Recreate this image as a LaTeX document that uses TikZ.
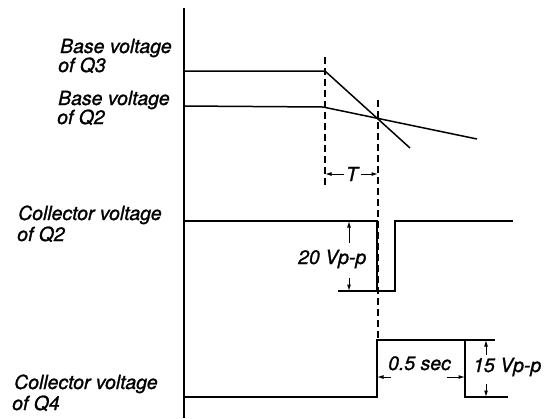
\documentclass[tikz,border=0pt]{standalone}
\usepackage{fontspec}
\setmainfont{TeX Gyre Heros}[ItalicFeatures={FakeBold=1.2}, FakeBold=1.2]
\usetikzlibrary{arrows.meta}
\begin{document}
\begin{tikzpicture}[x=1bp,y=-1bp,
  wave/.style={line width=1.5bp, line join=miter},
  guide/.style={line width=1.1bp, dash pattern=on 7bp off 4bp},
  lbl/.style={anchor=base west, inner sep=0pt, font=\fontsize{19.5}{20}\selectfont\itshape},
  dimarrow/.style={line width=1bp, -{Latex[length=6.5bp,width=4bp]}},
  ext/.style={line width=1.1bp}]
\useasboundingbox (0,0) rectangle (553,418);

% axis
\coordinate (axtop) at (184,8);
\coordinate (axbot) at (184,418);
\draw[wave] (axtop) -- (axbot);

% base voltages
\coordinate (q3a) at (184,71);
\coordinate (q3b) at (325,71);
\coordinate (q3c) at (410,148);
\draw[wave] (q3a) -- (q3b) -- (q3c);
\coordinate (q2a) at (184,106);
\coordinate (q2b) at (323,107);
\coordinate (q2c) at (477,139);
\draw[wave] (q2a) -- (q2b) -- (q2c);

% dashed guides
\coordinate (d1t) at (325,57);
\coordinate (d1b) at (325,188);
\draw[guide] (d1t) -- (d1b);
\coordinate (d2t) at (378,100);
\coordinate (d2b) at (378,338);
\draw[guide] (d2t) -- (d2b);

% T
\node[lbl, anchor=center] (T) at (352,174) {T};
\draw[dimarrow] (T.west) ++(-2,0) coordinate (tl) -- (d1b |- tl);
\draw[dimarrow] (T.east) ++(3,0) coordinate (tr) -- (d2b |- tr);

% collector Q2
\coordinate (c2a) at (184,221);
\coordinate (c2b) at (377,221);
\coordinate (c2c) at (377,291);
\coordinate (c2d) at (395,291);
\coordinate (c2e) at (395,221);
\coordinate (c2f) at (513,221);
\draw[wave] (c2a) -- (c2b) -- (c2c) -- (c2d) -- (c2e) -- (c2f);
\coordinate (c2x) at (338,291);
\draw[ext] (c2x) -- (c2c);
\node[lbl] (v20) at (298,264) {20 Vp-p};
\coordinate (a20t) at (349,243);
\coordinate (a20b) at (349,278);
\draw[dimarrow] (a20t) -- (a20t |- c2b);
\draw[dimarrow] (a20b) -- (a20b |- c2c);

% collector Q4
\coordinate (c4a) at (184,397);
\coordinate (c4b) at (377,397);
\coordinate (c4c) at (377,340);
\coordinate (c4d) at (465,340);
\coordinate (c4e) at (465,397);
\coordinate (c4f) at (508,397);
\draw[wave] (c4a) -- (c4b) -- (c4c) -- (c4d) -- (c4e) -- (c4f);
\coordinate (c4x) at (495,340);
\draw[ext] (c4d) -- (c4x);
\node[lbl] (v15) at (473,372) {15 Vp-p};
\coordinate (a15t) at (486,355);
\coordinate (a15b) at (486,384);
\draw[dimarrow] (a15t) -- (a15t |- c4d);
\draw[dimarrow] (a15b) -- (a15b |- c4e);
\node[lbl] (sec) at (388,370) {0.5 sec};
\coordinate (sl) at (391,377);
\coordinate (sr) at (447,377);
\draw[dimarrow] (sl) -- (sl -| c4b);
\draw[dimarrow] (sr) -- (sr -| c4d);

% labels
\node[lbl] (lq3a) at (60,53) {Base voltage};
\node[lbl] (lq3b) at (58,72) {of Q3};
\node[lbl] (lq2a) at (58,105) {Base voltage};
\node[lbl] (lq2b) at (57,124) {of Q2};
\node[lbl] (lc2a) at (18,220) {Collector voltage};
\node[lbl] (lc2b) at (17,241) {of Q2};
\node[lbl] (lc4a) at (14,389) {Collector voltage};
\node[lbl] (lc4b) at (12,410) {of Q4};
\end{tikzpicture}
\end{document}
